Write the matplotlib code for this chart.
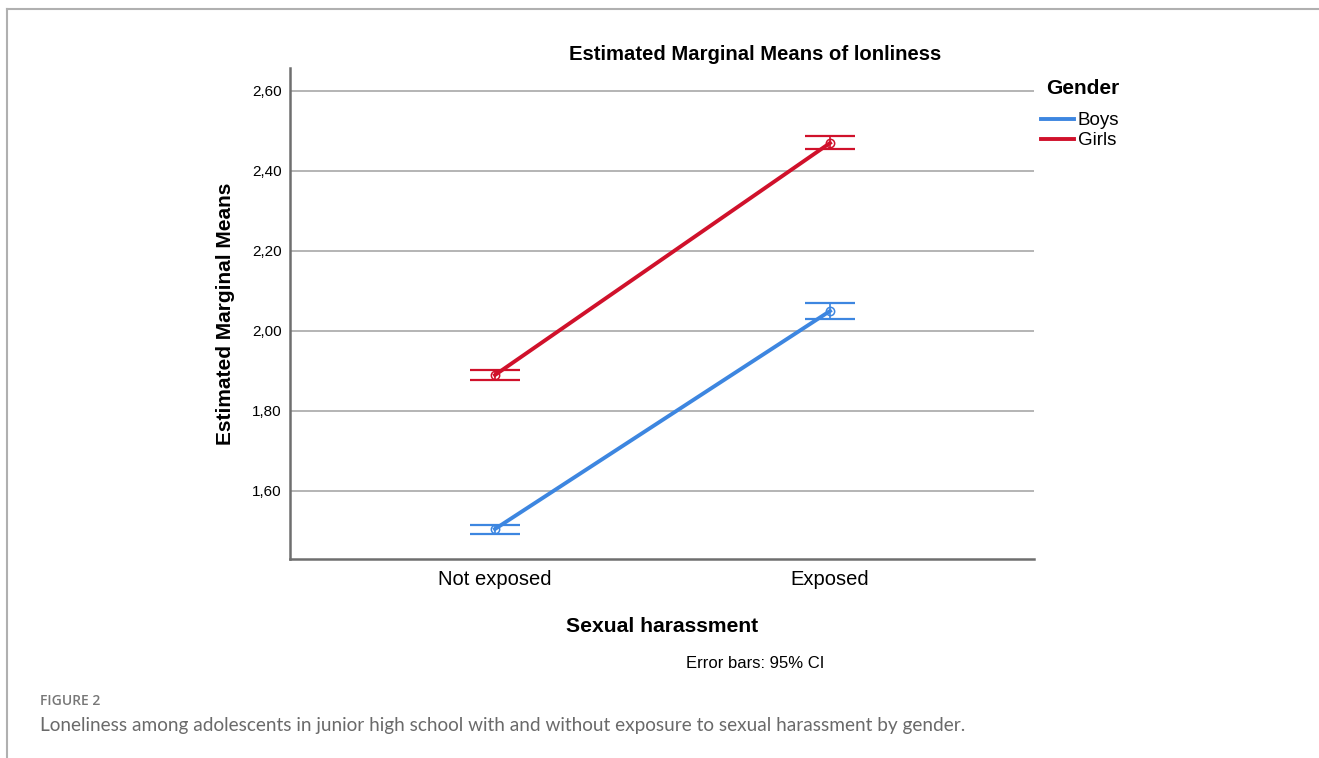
import numpy as np
import matplotlib.pyplot as plt

# Data
categories = ['Not exposed', 'Exposed']
boys_mean = [1.505, 2.05]
boys_low = [1.493, 2.030]
boys_high = [1.515, 2.070]
girls_mean = [1.89, 2.47]
girls_low = [1.878, 2.455]
girls_high = [1.903, 2.488]
yticks = [1.60, 1.80, 2.00, 2.20, 2.40, 2.60]

blue = '#3d86e0'
red = '#d0112b'

plt.rcParams['font.family'] = ['Liberation Sans', 'DejaVu Sans']

fig = plt.figure(figsize=(13.19, 7.58), dpi=100)
W, H = 1319, 758
ax = fig.add_axes([290 / W, 1 - 559 / H, 744 / W, 491 / H])

x = np.arange(len(categories))
for mean, low, high, col, lab in [(boys_mean, boys_low, boys_high, blue, 'Boys'),
                                  (girls_mean, girls_low, girls_high, red, 'Girls')]:
    mean = np.array(mean)
    err = [mean - np.array(low), np.array(high) - mean]
    ax.errorbar(x, mean, yerr=err, fmt='none', ecolor=col, elinewidth=1.2,
                capsize=18, capthick=1.6, zorder=3)
    ax.plot(x, mean, color=col, lw=2.8, label=lab, zorder=4)
    ax.plot(x, mean, 'o', ms=6, mfc='none', mec=col, mew=1.1, zorder=5)

ax.set_xlim(-0.612, 1.609)
ax.set_ylim(1.43, 2.6575)
ax.set_xticks(x)
ax.set_xticklabels(categories, fontsize=14.5)
ax.set_yticks(yticks)
ax.set_yticklabels([f'{v:.2f}'.replace('.', ',') for v in yticks], fontsize=11)
ax.tick_params(length=0, pad=6)
ax.tick_params(axis='x', pad=8)
ax.grid(axis='y', color='#b4b4b4', lw=1.4)
ax.set_axisbelow(True)
for s in ['top', 'right']:
    ax.spines[s].set_visible(False)
for s in ['left', 'bottom']:
    ax.spines[s].set_color('#6e6e6e')
    ax.spines[s].set_linewidth(1.8)

ax.set_ylabel('Estimated Marginal Means', fontsize=15, fontweight='bold', labelpad=12)
ax.set_xlabel('Sexual harassment', fontsize=15.2, fontweight='bold', labelpad=20)

fig.text(755 / W, 1 - 54 / H, 'Estimated Marginal Means of lonliness', fontsize=14.6,
         fontweight='bold', ha='center', va='center')
fig.text(755 / W, 1 - 663 / H, 'Error bars: 95% CI', fontsize=12, ha='center', va='center')

# legend: title as separate text, entries below
fig.text(1046 / W, 1 - 88 / H, 'Gender', fontsize=15, fontweight='bold', va='center')
leg = ax.legend(loc='upper left', bbox_to_anchor=(1041 / W, 1 - 112 / H),
                bbox_transform=fig.transFigure, frameon=False, fontsize=13.5,
                handlelength=1.75, handletextpad=0.2, labelspacing=0.15,
                borderaxespad=0, borderpad=0)

# outer frame and caption
fig.add_artist(plt.Line2D([7 / W, 1], [1 - 9 / H, 1 - 9 / H], color='#b0b0b0', lw=1.5))
fig.add_artist(plt.Line2D([7 / W, 7 / W], [0, 1 - 9 / H], color='#b0b0b0', lw=1.5))
fig.text(40 / W, 1 - 701 / H, 'FIGURE 2', fontsize=10, color='#777777', fontweight='semibold',
         family=['Open Sans', 'DejaVu Sans'], va='center')
fig.text(40 / W, 1 - 725 / H,
         'Loneliness among adolescents in junior high school with and without exposure to sexual harassment by gender.',
         fontsize=13.7, color='#6a6a6a', family=['Lato', 'DejaVu Sans'], va='center')

fig.savefig('out.png', dpi=100)
